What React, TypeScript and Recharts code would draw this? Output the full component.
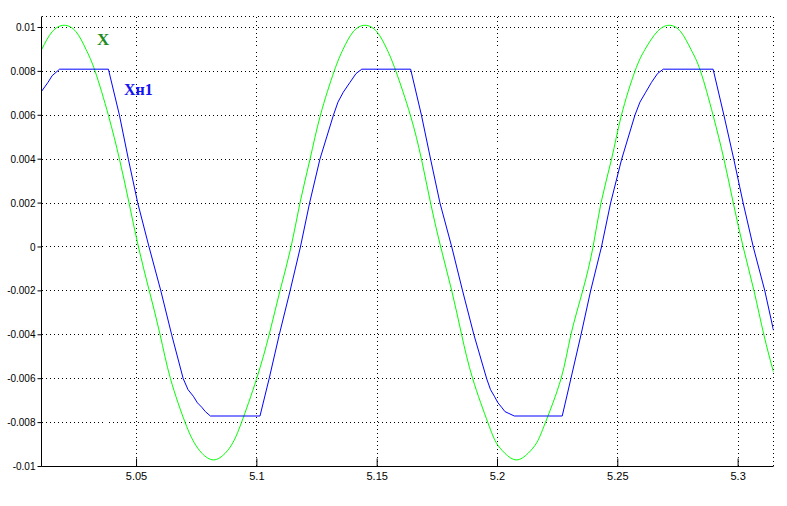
import { LineChart, Line, XAxis, YAxis, CartesianGrid } from "recharts";

// time axis (s) and values
const T_X = [
  5.0106, 5.0149, 5.0199, 5.0249, 5.029, 5.0328, 5.0383, 5.0429, 5.0469, 5.0508,
  5.0553, 5.0598, 5.0641, 5.0702, 5.0739, 5.0772, 5.082, 5.0868, 5.0901, 5.0936,
  5.0999, 5.1051, 5.1096, 5.1142, 5.1179, 5.1221, 5.1264, 5.1321, 5.1358, 5.14,
  5.1449, 5.1499, 5.1541, 5.1578, 5.1638, 5.1684, 5.1722, 5.1764, 5.181, 5.1851,
  5.1897, 5.196, 5.1994, 5.2031, 5.2079, 5.2127, 5.2164, 5.2199, 5.2264, 5.2305,
  5.2354, 5.2397, 5.243, 5.2474, 5.2515, 5.2571, 5.2613, 5.2663, 5.2714, 5.2762,
  5.2804, 5.2844, 5.2896, 5.2941, 5.298, 5.3021, 5.3066, 5.3107, 5.3147,
];
const X_VALUES = [
  0.009, 0.0098, 0.0101, 0.0098, 0.009, 0.008, 0.006, 0.004, 0.002, 0,
  -0.002, -0.004, -0.006, -0.008, -0.0089, -0.0094, -0.0097, -0.0094, -0.0089, -0.008,
  -0.006, -0.004, -0.002, 0, 0.002, 0.004, 0.006, 0.008, 0.009, 0.0098,
  0.0101, 0.0098, 0.009, 0.008, 0.006, 0.004, 0.002, 0, -0.002, -0.004,
  -0.006, -0.008, -0.0089, -0.0094, -0.0097, -0.0094, -0.0089, -0.008, -0.006, -0.004,
  -0.002, 0, 0.002, 0.004, 0.006, 0.008, 0.009, 0.0098, 0.0101, 0.0098,
  0.009, 0.008, 0.006, 0.004, 0.002, 0, -0.002, -0.004, -0.0057,
];

const T_XN1 = [
  5.0106, 5.0132, 5.0149, 5.018, 5.0383, 5.0429, 5.0466, 5.0505, 5.0552, 5.0601,
  5.0646, 5.0694, 5.0714, 5.0736, 5.0753, 5.0771, 5.0786, 5.0807, 5.1013, 5.1051,
  5.1093, 5.1138, 5.1181, 5.1219, 5.1262, 5.1318, 5.1337, 5.1359, 5.1387, 5.1412,
  5.1436, 5.1639, 5.1684, 5.1722, 5.1761, 5.181, 5.1855, 5.1902, 5.1955, 5.1971,
  5.1987, 5.2002, 5.2017, 5.2031, 5.207, 5.2269, 5.2305, 5.2347, 5.2387, 5.2432,
  5.247, 5.2516, 5.2571, 5.2592, 5.2616, 5.264, 5.2665, 5.2689, 5.2896, 5.2941,
  5.2982, 5.3021, 5.3063, 5.3111, 5.3147,
];
const XN1_VALUES = [
  0.0071, 0.0075, 0.0078, 0.0081, 0.0081, 0.006, 0.004, 0.002, 0, -0.002,
  -0.004, -0.006, -0.0065, -0.0068, -0.0071, -0.0073, -0.0075, -0.0077, -0.0077, -0.006,
  -0.004, -0.002, 0, 0.002, 0.004, 0.006, 0.0066, 0.00705, 0.0075, 0.0079,
  0.0081, 0.0081, 0.006, 0.004, 0.002, 0, -0.002, -0.004, -0.006, -0.0065,
  -0.0068, -0.0071, -0.0073, -0.0075, -0.0077, -0.0077, -0.006, -0.004, -0.002, 0,
  0.002, 0.004, 0.006, 0.0066, 0.00705, 0.0075, 0.0079, 0.0081, 0.0081, 0.006,
  0.004, 0.002, 0, -0.002, -0.0038,
];

const X_TICKS = [5.05, 5.1, 5.15, 5.2, 5.25, 5.3];
const Y_TICKS = [0.01, 0.008, 0.006, 0.004, 0.002, 0, -0.002, -0.004, -0.006, -0.008, -0.01];

const xData = T_X.map((t, i) => ({ t, v: X_VALUES[i] }));
const xn1Data = T_XN1.map((t, i) => ({ t, v: XN1_VALUES[i] }));

const X_DOMAIN = [5.0105, 5.3147];
const Y_DOMAIN = [-0.01, 0.0105];

const tickFont = { fill: "#000", fontSize: 11, fontFamily: "Liberation Sans, Arial, sans-serif" };

export default function App() {
  return (
    <div style={{ position: "absolute", left: 0, top: 0, width: 787, height: 506, background: "#fff" }}>
      <LineChart width={787} height={506} margin={{ top: 16.5, right: 13.5, bottom: 9.5, left: 0 }}>
        <CartesianGrid stroke="#000" strokeDasharray="1 3" shapeRendering="crispEdges" />
        <XAxis
          dataKey="t"
          type="number"
          domain={X_DOMAIN}
          ticks={X_TICKS}
          allowDataOverflow
          height={30}
          axisLine={{ stroke: "#000" }}
          tickLine={{ stroke: "#000" }}
          tickSize={-8}
          tickMargin={13.5}
          tick={tickFont}
        />
        <XAxis
          xAxisId="top"
          orientation="top"
          type="number"
          domain={X_DOMAIN}
          ticks={X_TICKS}
          allowDataOverflow
          height={0}
          axisLine={false}
          tickLine={{ stroke: "#000" }}
          tickSize={-7}
          tick={false}
        />
        <YAxis
          type="number"
          domain={Y_DOMAIN}
          ticks={Y_TICKS}
          allowDataOverflow
          width={41.5}
          axisLine={{ stroke: "#000" }}
          tickLine={{ stroke: "#000" }}
          tickSize={4}
          tickMargin={2}
          tick={{ ...tickFont, fontSize: 10 }}
        />
        <YAxis
          yAxisId="right"
          orientation="right"
          type="number"
          domain={Y_DOMAIN}
          ticks={Y_TICKS}
          allowDataOverflow
          width={0}
          axisLine={false}
          tickLine={{ stroke: "#000" }}
          tickSize={-5}
          tick={false}
        />
        <Line
          data={xData}
          dataKey="v"
          type="natural"
          stroke="#00ff00"
          strokeWidth={1}
          dot={false}
          isAnimationActive={false}
        />
        <Line
          data={xn1Data}
          dataKey="v"
          type="linear"
          stroke="#0000ff"
          strokeWidth={1}
          dot={false}
          isAnimationActive={false}
        />
      </LineChart>
      <svg
        width={787}
        height={506}
        style={{ position: "absolute", left: 0, top: 0, pointerEvents: "none" }}
      >
        <text x={97} y={45} fill="#1e8c1e" fontSize={17} fontWeight="bold" fontFamily="Liberation Serif, Times New Roman, serif">
          X
        </text>
        <text x={124} y={95} fill="#1414f0" fontSize={16} fontWeight="bold" fontFamily="Liberation Serif, Times New Roman, serif">
          Xн1
        </text>
      </svg>
    </div>
  );
}
